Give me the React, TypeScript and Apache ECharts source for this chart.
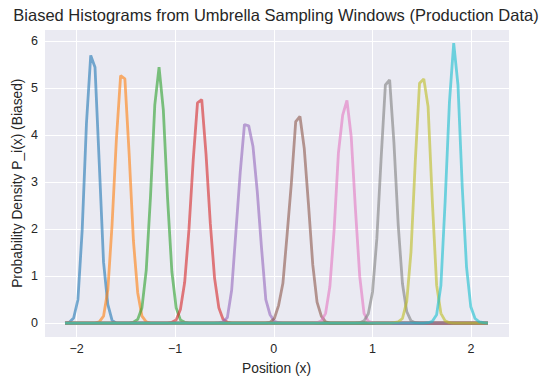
import React, { useEffect, useRef } from "react";
import * as echarts from "echarts";

const TITLE = "Biased Histograms from Umbrella Sampling Windows (Production Data)";
const X_LABEL = "Position (x)";
const Y_LABEL = "Probability Density P_i(x) (Biased)";

const X_TICKS = [-2, -1, 0, 1, 2];
const Y_TICKS = [0, 1, 2, 3, 4, 5, 6];

// shared histogram bins (centers)
const BIN_FIRST_CENTER = -2.116;
const BIN_WIDTH = 0.0433;
const BIN_COUNT = 100;

const COLORS = [
  "#1f77b4", "#ff7f0e", "#2ca02c", "#d62728", "#9467bd",
  "#8c564b", "#e377c2", "#7f7f7f", "#bcbd22", "#17becf",
];

// first non-zero bin index of each window
const WINDOW_START = [1, 8, 16, 25, 36, 48, 59, 69, 77, 85];

const W0 = [0.02, 0.11, 0.5, 1.98, 4.25, 5.7, 5.45, 3.4, 1.3, 0.4, 0.06];
const W1 = [0.03, 0.15, 0.7, 2.1, 3.9, 5.27, 5.2, 3.6, 1.75, 0.65, 0.15, 0.03];
const W2 = [0.02, 0.08, 0.33, 1.13, 2.7, 4.64, 5.45, 4.54, 2.65, 1.1, 0.33, 0.07, 0.02];
const W3 = [0.02, 0.07, 0.29, 0.87, 1.99, 3.47, 4.69, 4.76, 3.6, 2.13, 0.96, 0.33, 0.08, 0.02];
const W4 = [0.01, 0.03, 0.12, 0.7, 1.95, 3.2, 4.23, 4.2, 3.76, 2.8, 1.6, 0.5, 0.18, 0.04, 0.01];
const W5 = [0.02, 0.1, 0.38, 0.85, 1.9, 3.0, 4.29, 4.4, 3.72, 2.52, 1.24, 0.45, 0.15, 0.03];
const W6 = [0.01, 0.05, 0.21, 0.78, 1.99, 3.62, 4.43, 4.74, 3.97, 2.41, 0.99, 0.21, 0.04, 0.01];
const W7 = [0.01, 0.05, 0.2, 0.67, 1.8, 3.5, 5.07, 5.18, 3.85, 2.1, 0.84, 0.25, 0.05, 0.01];
const W8 = [0.01, 0.03, 0.1, 0.46, 1.52, 3.44, 5.11, 5.2, 4.61, 2.59, 0.81, 0.21, 0.05, 0.01];
const W9 = [0.01, 0.04, 0.18, 0.8, 2.6, 4.7, 5.96, 5.07, 2.9, 1.2, 0.35, 0.1, 0.03, 0.01];

const WINDOWS = [W0, W1, W2, W3, W4, W5, W6, W7, W8, W9];

const X_MIN = -2.33;
const X_MAX = 2.385;
const Y_MIN = -0.298;
const Y_MAX = 6.258;

const FONT = "'Liberation Sans', Arial, sans-serif";
const TEXT = "#262626";

function buildSeriesData(start: number, vals: number[]): number[][] {
  const out: number[][] = [];
  for (let k = 0; k < BIN_COUNT; k++) {
    const x = Math.round((BIN_FIRST_CENTER + k * BIN_WIDTH) * 10000) / 10000;
    const i = k - start;
    const y = i >= 0 && i < vals.length ? vals[i] : 0;
    out.push([x, y]);
  }
  return out;
}

function fmt(v: number, allowed: number[]): string {
  const r = Math.round(v * 1000) / 1000;
  if (!allowed.includes(r)) return "";
  return String(r).replace("-", "\u2212");
}

export default function App() {
  const ref = useRef<HTMLDivElement>(null);

  useEffect(() => {
    if (!ref.current) return;
    const chart = echarts.init(ref.current, null, { renderer: "svg" });
    const series = WINDOWS.map((vals, idx) => ({
      type: "line",
      data: buildSeriesData(WINDOW_START[idx], vals),
      symbol: "none",
      showSymbol: false,
      silent: true,
      lineStyle: { width: 2.8, color: COLORS[idx], opacity: 0.6 },
      itemStyle: { color: COLORS[idx] },
      emphasis: { disabled: true },
    }));
    chart.setOption({
      animation: false,
      backgroundColor: "#ffffff",
      title: {
        text: TITLE,
        left: "center",
        top: 6,
        padding: 0,
        textStyle: { fontFamily: FONT, fontSize: 16.5, fontWeight: "normal", color: TEXT },
      },
      grid: {
        left: 44,
        top: 29.2,
        width: 465,
        height: 308,
        show: true,
        backgroundColor: "#EAEAF2",
        borderWidth: 0,
        containLabel: false,
        outerBoundsMode: "none",
      },
      xAxis: {
        type: "value",
        min: X_MIN,
        max: X_MAX,
        splitNumber: 5,
        name: X_LABEL,
        nameLocation: "middle",
        nameGap: 24,
        nameMoveOverlap: false,
        nameTextStyle: { fontFamily: FONT, fontSize: 13.8, color: TEXT },
        axisLine: { show: false },
        axisTick: { show: false },
        axisLabel: {
          fontFamily: FONT,
          fontSize: 12.5,
          color: TEXT,
          margin: 5,
          showMinLabel: false,
          showMaxLabel: false,
          formatter: (v: number) => fmt(v, X_TICKS),
        },
        splitLine: { show: true, lineStyle: { color: "#ffffff", width: 1 } },
      },
      yAxis: {
        type: "value",
        min: Y_MIN,
        max: Y_MAX,
        splitNumber: 6,
        name: Y_LABEL,
        nameLocation: "middle",
        nameGap: 20,
        nameMoveOverlap: false,
        nameTextStyle: { fontFamily: FONT, fontSize: 13.8, color: TEXT },
        axisLine: { show: false },
        axisTick: { show: false },
        axisLabel: {
          fontFamily: FONT,
          fontSize: 12.5,
          color: TEXT,
          margin: 6,
          showMinLabel: false,
          showMaxLabel: false,
          formatter: (v: number) => fmt(v, Y_TICKS),
        },
        splitLine: { show: true, lineStyle: { color: "#ffffff", width: 1 } },
      },
      series,
    });
    return () => chart.dispose();
  }, []);

  return (
    <div
      ref={ref}
      style={{ position: "absolute", left: 0, top: 0, width: 552, height: 386 }}
    />
  );
}
